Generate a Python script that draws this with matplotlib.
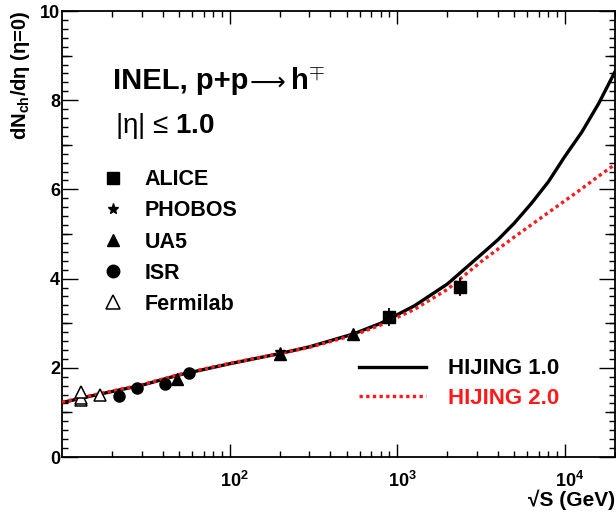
import matplotlib
import numpy as np

matplotlib.use("Agg")
import matplotlib.pyplot as plt
from matplotlib.lines import Line2D
from matplotlib.ticker import FixedLocator, NullFormatter
from matplotlib.transforms import ScaledTranslation

plt.rcParams["font.family"] = ["Liberation Sans", "DejaVu Sans"]
plt.rcParams["font.weight"] = "bold"
plt.rcParams["axes.labelweight"] = "bold"
plt.rcParams["mathtext.fontset"] = "custom"
plt.rcParams["mathtext.rm"] = "Liberation Sans:bold"
plt.rcParams["mathtext.bf"] = "Liberation Sans:bold"
plt.rcParams["mathtext.it"] = "Liberation Sans:bold:italic"

# ---------------- data ----------------
# HIJING curves, sqrt(s) in GeV
curve_sqrt_s = [10, 15, 20, 30, 50, 100, 200, 300, 550, 800, 1270, 2000,
                3200, 4000, 5000, 6350, 8000, 10000, 12700, 16000, 20000]
hijing_10 = [1.22, 1.37, 1.47, 1.61, 1.84, 2.09, 2.32, 2.47, 2.76, 3.00, 3.39,
             3.88, 4.55, 4.87, 5.24, 5.69, 6.17, 6.73, 7.29, 7.93, 8.64]
hijing_20 = [1.23, 1.38, 1.48, 1.62, 1.85, 2.10, 2.32, 2.46, 2.73, 2.96, 3.31,
             3.76, 4.39, 4.66, 4.93, 5.21, 5.48, 5.74, 6.02, 6.30, 6.56]

alice_s = [900, 2360]
alice_y = [3.14, 3.82]
alice_err = [0.20, 0.20]

phobos_s = [200]
phobos_y = [2.35]

ua5_s = [48.5, 200, 546]
ua5_y = [1.76, 2.32, 2.75]

isr_s = [21.9, 28.0, 41.4, 57.5]
isr_y = [1.37, 1.55, 1.63, 1.88]

fermilab_s = [13.0, 13.0, 13.0, 16.9]
fermilab_y = [1.27, 1.32, 1.46, 1.39]

RED = "#ff1a1a"

# ---------------- figure ----------------
fig = plt.figure(figsize=(6.16, 5.21), dpi=100)
ax = fig.add_axes([62 / 616, 64 / 521, 553 / 616, 446 / 521])

ax.plot(curve_sqrt_s, hijing_10, color="black", lw=2.4, zorder=2)
ax.plot(curve_sqrt_s, hijing_20, color=RED, lw=2.4, ls=(0, (1, 1.0)), zorder=3)

mk = dict(color="black", ls="none", zorder=5)
ax.errorbar(alice_s, alice_y, yerr=alice_err, fmt="s", ms=8, elinewidth=1.3,
            capsize=0, **mk)
ax.plot(ua5_s, ua5_y, marker="^", ms=8, **mk)
ax.plot(phobos_s, phobos_y, marker="*", ms=7, **mk)
ax.plot(isr_s, isr_y, marker="o", ms=8, **mk)
ax.plot(fermilab_s, fermilab_y, marker="^", ms=8.5, mfc="white", mec="black",
        mew=1.1, ls="none", zorder=5)

ax.set_xscale("log")
ax.set_xlim(10, 20000)
ax.set_ylim(0, 10)

# x ticks: decades labelled, minor 2..9
ax.xaxis.set_major_locator(FixedLocator([100, 1000, 10000]))
ax.set_xticklabels([r"$10^{2}$", r"$10^{3}$", r"$10^{4}$"])
minor_x = [m * 10 ** e for e in range(1, 5) for m in range(2, 10)]
ax.xaxis.set_minor_locator(FixedLocator(minor_x))
ax.xaxis.set_minor_formatter(NullFormatter())

ax.set_yticks([0, 2, 4, 6, 8, 10])
ax.set_yticklabels(["0", "2", "4", "6", "8", "10"])
ax.yaxis.set_minor_locator(FixedLocator(np.arange(0, 10.01, 0.2)))

ax.tick_params(which="both", direction="in", top=True, right=True, width=1.0,
               labelsize=13, colors="black")
ax.tick_params(axis="x", which="major", length=9.5, pad=10)
ax.tick_params(axis="x", which="minor", length=4.5)
ax.tick_params(axis="y", which="major", length=11.5, pad=1.5)
ax.tick_params(axis="y", which="minor", length=4.3)
for sp in ax.spines.values():
    sp.set_linewidth(1.3)

# ROOT puts the "10" of 10^n on the tick, exponent to the right
shift = ScaledTranslation(5 / 100, 0, fig.dpi_scale_trans)
for lab in ax.get_xticklabels():
    lab.set_transform(lab.get_transform() + shift)

# medium ticks at odd integers (ROOT style)
ax_mid = fig.add_axes(ax.get_position(), frameon=False)
ax_mid.set_ylim(0, 10)
ax_mid.set_xticks([])
ax_mid.set_yticks([1, 3, 5, 7, 9])
ax_mid.tick_params(axis="y", direction="in", left=True, right=True,
                   labelleft=False, length=7.2, width=1.0)
ax_mid.patch.set_visible(False)

ax.set_xlabel("√S (GeV)", fontsize=15, loc="right")
ax.xaxis.set_label_coords(1.0, -0.074)
ax.xaxis.label.set_va("top")
ax.set_ylabel(r"dN$_{\mathbf{ch}}$/dη (η=0)", fontsize=14.5, loc="top")
ax.yaxis.set_label_coords(-0.055, 1.0)

# title line pieced together so the arrow can come from DejaVu Sans
t1 = ax.text(0.092, 0.824, "INEL, p+p", transform=ax.transAxes,
             fontsize=21, ha="left", va="baseline")
t2 = ax.annotate("⟶", xy=(1.0, 0.824), xycoords=(t1, "axes fraction"),
                 xytext=(1, 0), textcoords="offset points",
                 family="DejaVu Sans", fontweight="normal", fontsize=18,
                 ha="left", va="baseline")
ax.annotate(r"h$^{\mp}$", xy=(1.0, 0.824), xycoords=(t2, "axes fraction"),
            xytext=(3, 0), textcoords="offset points", fontsize=21,
            ha="left", va="baseline")
ax.text(0.095, 0.726, r"|η| ≤ $\mathbf{1.0}$", transform=ax.transAxes,
        fontsize=20, fontweight="normal", ha="left", va="baseline")

handles = [
    Line2D([], [], marker="s", ms=9, color="black", ls="none"),
    Line2D([], [], marker="*", ms=8, color="black", ls="none"),
    Line2D([], [], marker="^", ms=9, color="black", ls="none"),
    Line2D([], [], marker="o", ms=9, color="black", ls="none"),
    Line2D([], [], marker="^", ms=10, mfc="white", mec="black", mew=1.1,
           ls="none"),
]
leg1 = ax.legend(handles, ["ALICE", "PHOBOS", "UA5", "ISR", "Fermilab"],
                 loc="upper left", bbox_to_anchor=(0.073, 0.645), frameon=False,
                 fontsize=15.5, handlelength=1.0, handletextpad=0.95,
                 labelspacing=0.47, borderpad=0, borderaxespad=0)
ax.add_artist(leg1)

line_handles = [
    Line2D([], [], color="black", lw=2.4),
    Line2D([], [], color=RED, lw=2.4, ls=(0, (1, 1.0))),
]
ax.legend(line_handles, ["HIJING 1.0", "HIJING 2.0"], loc="upper left",
          bbox_to_anchor=(0.537, 0.221), frameon=False, fontsize=16,
          handlelength=3.0, handletextpad=1.0, labelspacing=0.37,
          borderpad=0, borderaxespad=0, labelcolor=["black", RED])

fig.savefig("out.png", dpi=100)
